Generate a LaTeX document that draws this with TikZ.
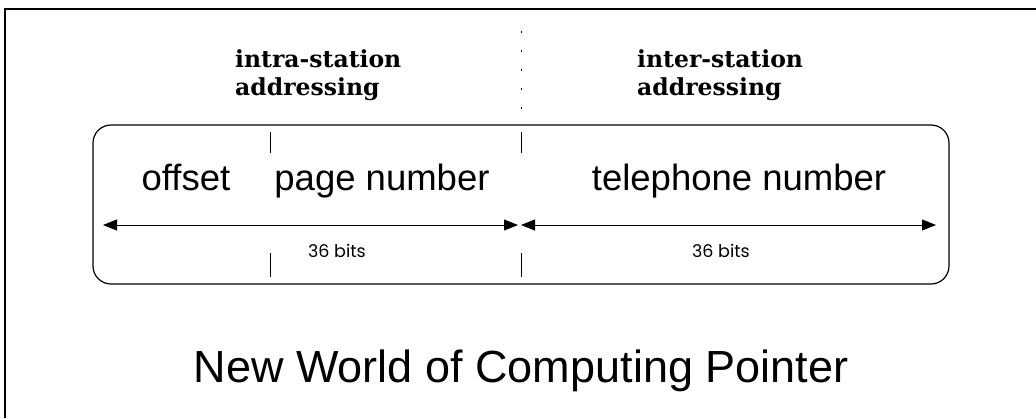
\documentclass[tikz,border=0pt]{standalone}
\usepackage{fontspec}
\setmainfont{Liberation Sans}
\newfontfamily\headfont{DejaVu Serif}
\newfontfamily\bitsfont{Poppins}
\usetikzlibrary{arrows.meta}

\begin{document}
\begin{tikzpicture}[x=1pt,y=-1pt,
  fieldlabel/.style={anchor=base, inner sep=0pt, font=\fontsize{36.5}{40}\selectfont},
  headlabel/.style={anchor=base west, inner sep=0pt, align=left,
    font=\headfont\bfseries\fontsize{23.5}{28}\selectfont},
  bitslabel/.style={anchor=base, inner sep=0pt, font=\bitsfont\fontsize{17.5}{20}\selectfont},
  fieldbox/.style={line width=1.2pt, rounded corners=18pt},
  divider/.style={line width=0.9pt},
  span/.style={line width=0.9pt,
    {Triangle[length=14pt,width=11pt]}-{Triangle[length=14pt,width=11pt]}},
]
\useasboundingbox (0,0) rectangle (1036,418);

% outer frame (left and top edges)
\draw[line width=1.8pt] (5,418) -- (5,9) -- (1036,9);

% section headings (anchored at the baseline of the last line)
\node[headlabel] (intra) at (235,95) {intra-station\\addressing};
\node[headlabel] (inter) at (637,95) {inter-station\\addressing};

% dotted separator between the two sections
\draw[line width=0.9pt, dash pattern=on 2pt off 17pt] (521,31) -- (521,118);

% the pointer word
\draw[fieldbox] (93,125) rectangle (949,284);

% field dividers
\draw[divider] (270,132) -- (270,153);
\draw[divider] (270,253) -- (270,277);
\draw[divider] (521,132) -- (521,153);
\draw[divider] (521,253) -- (521,277);

% field names
\node[fieldlabel] (offset) at (186,190) {offset};
\node[fieldlabel] (page) at (382,190) {page number};
\node[fieldlabel] (phone) at (739,190) {telephone number};

% bit-width spans
\coordinate (lspanA) at (103,225);
\coordinate (lspanB) at (518,225);
\coordinate (rspanA) at (521,225);
\coordinate (rspanB) at (936,225);
\draw[span] (lspanA) -- (lspanB);
\draw[span] (rspanA) -- (rspanB);
\node[bitslabel] (lbits) at (337,257) {36 bits};
\node[bitslabel] (rbits) at (721,257) {36 bits};

% caption
\node[anchor=base, inner sep=0pt, font=\fontsize{45}{50}\selectfont] (title) at (521,382)
  {New World of Computing Pointer};
\end{tikzpicture}
\end{document}
